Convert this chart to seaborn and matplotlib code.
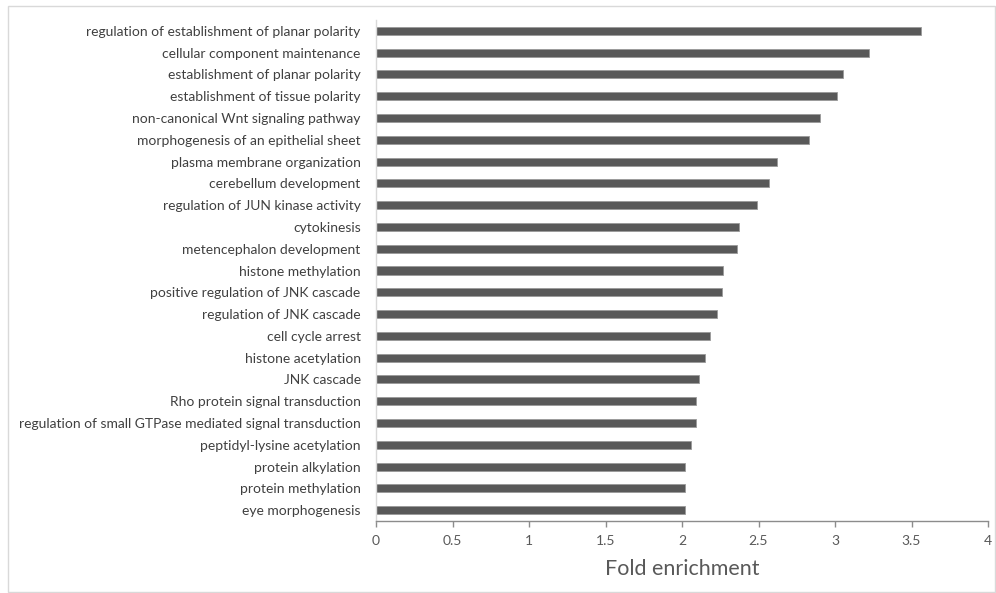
import matplotlib
matplotlib.use("Agg")
import matplotlib.pyplot as plt
import seaborn as sns
import pandas as pd
from matplotlib.patches import Rectangle

terms = [
    "regulation of establishment of planar polarity",
    "cellular component maintenance",
    "establishment of planar polarity",
    "establishment of tissue polarity",
    "non-canonical Wnt signaling pathway",
    "morphogenesis of an epithelial sheet",
    "plasma membrane organization",
    "cerebellum development",
    "regulation of JUN kinase activity",
    "cytokinesis",
    "metencephalon development",
    "histone methylation",
    "positive regulation of JNK cascade",
    "regulation of JNK cascade",
    "cell cycle arrest",
    "histone acetylation",
    "JNK cascade",
    "Rho protein signal transduction",
    "regulation of small GTPase mediated signal transduction",
    "peptidyl-lysine acetylation",
    "protein alkylation",
    "protein methylation",
    "eye morphogenesis",
]
fold_enrichment = [3.56, 3.22, 3.05, 3.01, 2.90, 2.83, 2.62, 2.57, 2.49, 2.37,
                   2.36, 2.27, 2.26, 2.23, 2.18, 2.15, 2.11, 2.09, 2.09, 2.06,
                   2.02, 2.02, 2.02]
x_ticks = [0, 0.5, 1, 1.5, 2, 2.5, 3, 3.5, 4]
x_tick_labels = ["0", "0.5", "1", "1.5", "2", "2.5", "3", "3.5", "4"]

df = pd.DataFrame({"term": terms, "fold": fold_enrichment})

sns.set_theme(style="white")
plt.rcParams["font.family"] = ["Lato", "DejaVu Sans"]

fig = plt.figure(figsize=(9.96, 5.93), dpi=100)
ax = fig.add_axes([376 / 996, 1 - 521 / 593, (988 - 376) / 996, (521 - 20) / 593])

sns.barplot(data=df, x="fold", y="term", orient="h", color="#595959",
            saturation=1, width=0.37, edgecolor="#9a9a9a", linewidth=0.6, ax=ax)

ax.set_xlim(0, 4)
ax.set_ylim(len(terms) - 0.5, -0.5)
ax.set_xticks(x_ticks)
ax.set_xticklabels(x_tick_labels)
ax.set_ylabel("")
ax.set_xlabel("Fold enrichment", fontsize=15.5, color="#595959", labelpad=9)

for side in ("top", "right"):
    ax.spines[side].set_visible(False)
ax.spines["bottom"].set_color("#8c8c8c")
ax.spines["bottom"].set_linewidth(1.0)
ax.spines["left"].set_color("#d9d9d9")
ax.spines["left"].set_linewidth(1.0)

ax.tick_params(axis="x", which="both", bottom=True, direction="out", length=4,
               width=1, color="#8c8c8c", labelsize=10, labelcolor="#595959", pad=6)
ax.tick_params(axis="y", left=False, length=0, labelsize=10, labelcolor="#404040", pad=11)

# light frame around the whole chart
fig.patches.append(Rectangle((8 / 996, 1 - 592 / 593), 987 / 996, 586 / 593,
                             transform=fig.transFigure, fill=False,
                             edgecolor="#d9d9d9", linewidth=1.0))

fig.savefig("out.png", dpi=100)
